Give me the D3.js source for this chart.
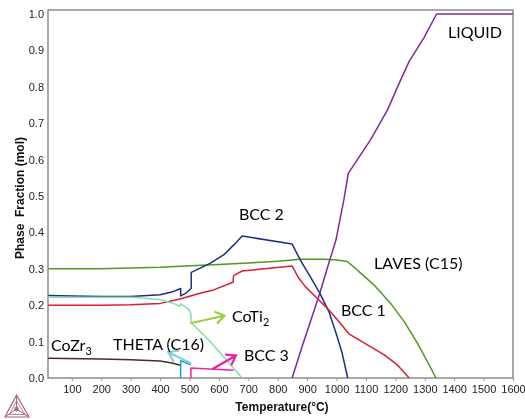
<!DOCTYPE html>
<html>
<head>
<meta charset="utf-8">
<script src="https://cdn.jsdelivr.net/npm/d3@7"></script>
<style>
  html, body { margin: 0; padding: 0; background: #fff; }
  svg { display: block; filter: blur(0.35px); }
  .tick text { font-family: "Liberation Sans", Arial, sans-serif; font-size: 11px; fill: #222; }
  .axis-title { font-family: "Liberation Sans", Arial, sans-serif; font-size: 12px; font-weight: bold; fill: #111; }
  .phase-label { font-family: Lato, "Open Sans", sans-serif; font-size: 16px; fill: #000; }
  .curve { fill: none; stroke-width: 1.5; stroke-linejoin: round; }
</style>
</head>
<body>
<div id="svg-container"></div>
<script>
// ticks
const xTicks = [100, 200, 300, 400, 500, 600, 700, 800, 900, 1000, 1100, 1200, 1300, 1400, 1500, 1600];
const yTicks = [0, 0.1, 0.2, 0.3, 0.4, 0.5, 0.6, 0.7, 0.8, 0.9, 1.0];

// phase curves, temperature (C) and phase fraction
const lavesT = [20, 200, 400, 468, 600, 700, 800, 877, 960, 1002, 1036, 1065, 1082, 1127, 1184, 1230, 1275, 1315, 1338];
const lavesV = [0.3, 0.3, 0.304, 0.307, 0.312, 0.316, 0.321, 0.326, 0.326, 0.324, 0.32, 0.301, 0.288, 0.256, 0.205, 0.155, 0.096, 0.036, 0];

const liquidT = [849, 883, 917, 943, 977, 998, 1025, 1040, 1116, 1173, 1212, 1247, 1298, 1340, 1600];
const liquidV = [0, 0.0866, 0.169, 0.233, 0.324, 0.379, 0.49, 0.562, 0.655, 0.736, 0.808, 0.87, 0.936, 1, 1];

const bcc2T = [20, 100, 200, 300, 400, 440, 470, 470, 490, 506, 506, 570, 616, 650, 679, 849, 877, 911, 943, 974, 1002, 1019, 1038];
const bcc2V = [0.2265, 0.225, 0.224, 0.224, 0.229, 0.236, 0.2457, 0.2256, 0.234, 0.2466, 0.29, 0.315, 0.338, 0.365, 0.39, 0.368, 0.324, 0.278, 0.233, 0.1825, 0.114, 0.0685, 0];

const bcc1T = [20, 200, 300, 400, 468, 536, 582, 648, 650, 679, 849, 872, 894, 934, 968, 1008, 1042, 1105, 1161, 1207, 1247];
const bcc1V = [0.2, 0.2, 0.201, 0.205, 0.217, 0.233, 0.242, 0.263, 0.281, 0.294, 0.3077, 0.274, 0.251, 0.219, 0.192, 0.155, 0.1214, 0.091, 0.064, 0.036, 0];

const coTi2T = [20, 200, 309, 400, 445, 468, 470, 497, 505, 506, 559, 605, 650, 679];
const coTi2V = [0.222, 0.222, 0.222, 0.215, 0.205, 0.197, 0.2035, 0.189, 0.176, 0.151, 0.11, 0.0685, 0.027, 0];

const coZr3T = [20, 200, 300, 400, 440, 470];
const coZr3V = [0.054, 0.052, 0.05, 0.0466, 0.041, 0.035];

const thetaT = [470, 470, 505];
const thetaV = [0, 0.0475, 0.0365];

const bcc3T = [505, 505, 650];
const bcc3V = [0, 0.0274, 0.021];

const curveNames = ["LAVES", "LIQUID", "BCC2", "BCC1", "CoTi2", "CoZr3", "THETA", "BCC3"];
const curveTemps = [lavesT, liquidT, bcc2T, bcc1T, coTi2T, coZr3T, thetaT, bcc3T];
const curveVals = [lavesV, liquidV, bcc2V, bcc1V, coTi2V, coZr3V, thetaV, bcc3V];
const curveColors = ["#4f9a1e", "#7d2a9a", "#1f2f7d", "#d81f34", "#86dfa4", "#4a2c24", "#1b9fd8", "#f01fa6"];

// arrows from label to curve: [T0, v0, T1, v1]
const arrowFrom = [[503, 0.041], [506, 0.151], [580, 0.0255]];
const arrowTo = [[428, 0.071], [619, 0.171], [658, 0.062]];
const arrowColors = ["#8ccbe2", "#9bd043", "#f01fa6"];

//////////////////////////// svg ////////////////////////////
const width = 525;
const height = 419;
const margin = { top: 10, right: 12, bottom: 41, left: 48 };

const svg = d3.select("#svg-container").append("svg")
  .attr("width", width)
  .attr("height", height);

const xScale = d3.scaleLinear().domain([19, 1600]).range([margin.left, width - margin.right]);
const yScale = d3.scaleLinear().domain([0, 1.011]).range([height - margin.bottom, margin.top]);

// axis
const xAxis = d3.axisBottom(xScale).tickValues(xTicks).tickSize(3).tickPadding(4).tickFormat(d3.format("d"));
const yAxis = d3.axisLeft(yScale).tickValues(yTicks).tickSize(0).tickPadding(4).tickFormat(d3.format(".1f"));

svg.append("g").attr("class", "x-axis")
  .attr("transform", `translate(0, ${height - margin.bottom})`)
  .call(xAxis)
  .call((g) => g.select(".domain").remove())
  .call((g) => g.selectAll("line").attr("stroke", "#999"));

svg.append("g").attr("class", "y-axis")
  .attr("transform", `translate(${margin.left}, 0)`)
  .call(yAxis)
  .call((g) => g.select(".domain").remove());

// frame
svg.append("rect")
  .attr("x", margin.left)
  .attr("y", margin.top)
  .attr("width", width - margin.left - margin.right)
  .attr("height", height - margin.top - margin.bottom)
  .attr("fill", "none")
  .attr("stroke", "#8c8c8c")
  .attr("stroke-width", 1.5);

// axis titles
svg.append("text").attr("class", "axis-title")
  .attr("x", 282).attr("y", 411)
  .attr("text-anchor", "middle")
  .text("Temperature(°C)");

svg.append("text").attr("class", "axis-title")
  .attr("transform", "translate(24, 198) rotate(-90)")
  .attr("text-anchor", "middle")
  .attr("xml:space", "preserve")
  .text("Phase  Fraction (mol)");

// curves
const line = d3.line()
  .x((d) => xScale(d[0]))
  .y((d) => yScale(d[1]));

curveNames.forEach((name, i) => {
  svg.append("path")
    .datum(d3.zip(curveTemps[i], curveVals[i]))
    .attr("class", "curve " + name)
    .attr("stroke", curveColors[i])
    .attr("d", line);
});

// label arrows
arrowFrom.forEach((from, i) => {
  const to = arrowTo[i];
  const x0 = xScale(from[0]), y0 = yScale(from[1]);
  const x1 = xScale(to[0]), y1 = yScale(to[1]);
  const ang = Math.atan2(y1 - y0, x1 - x0);
  const head = 10;
  const hx = (a) => x1 - head * Math.cos(ang + a);
  const hy = (a) => y1 - head * Math.sin(ang + a);
  svg.append("path")
    .attr("d", `M${x0},${y0}L${x1},${y1}M${hx(0.6)},${hy(0.6)}L${x1},${y1}L${hx(-0.6)},${hy(-0.6)}`)
    .attr("fill", "none")
    .attr("stroke", arrowColors[i])
    .attr("stroke-width", 2.2)
    .attr("stroke-linecap", "round");
});

// phase labels
const addLabel = (txt, x, y, sub) => {
  const t = svg.append("text").attr("class", "phase-label").attr("x", x).attr("y", y).text(txt);
  if (sub) {
    t.append("tspan").attr("dy", 4).attr("font-size", 11).text(sub);
  }
};
addLabel("LIQUID", 448, 38);
addLabel("LAVES (C15)", 374, 269);
addLabel("BCC 2", 239, 220);
addLabel("BCC 1", 341, 316);
addLabel("CoTi", 232, 322, "2");
addLabel("BCC 3", 244, 361);
addLabel("THETA (C16)", 113, 350);
addLabel("CoZr", 51, 351, "3");

// logo
const logo = svg.append("g")
  .attr("fill", "none")
  .attr("stroke", "#b0607e")
  .attr("stroke-width", 1.2);
logo.append("path").attr("d", "M16.5,395L5,417H29Z");
logo.append("path").attr("d", "M16.5,401L9.5,414.5H25Z").attr("stroke-width", 0.8);
logo.append("path").attr("d", "M16.5,395V409M5,417L16.5,409L29,417").attr("stroke-width", 1);
logo.append("circle").attr("cx", 16.5).attr("cy", 409).attr("r", 1.6).attr("fill", "#b0607e");
</script>
</body>
</html>
